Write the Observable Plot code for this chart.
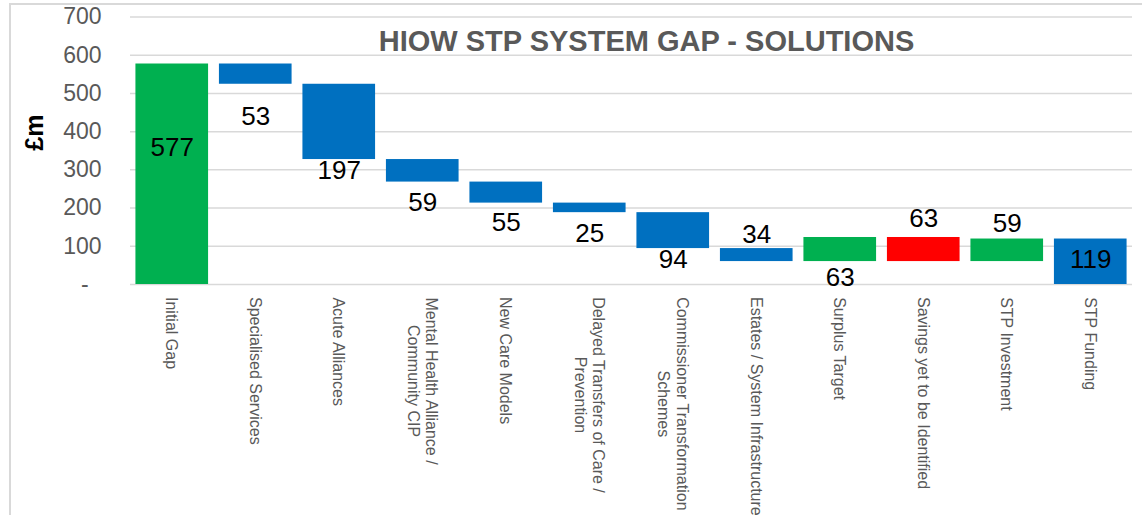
<!DOCTYPE html>
<html><head><meta charset="utf-8">
<script src="https://cdn.jsdelivr.net/npm/d3@7"></script>
<script src="https://cdn.jsdelivr.net/npm/@observablehq/plot@0.6"></script>
<style>
body{margin:0;background:#fff;}
#wrap{position:relative;width:1142px;height:515px;overflow:hidden;}
#frame{position:absolute;left:9px;top:3px;width:1200px;height:600px;border-left:2px solid #d9d9d9;border-top:2px solid #d9d9d9;pointer-events:none;}
#chart svg{display:block;}
</style></head><body>
<div id="wrap"><div id="chart"></div><div id="frame"></div></div>
<script>
// ---- data ----
const categories = [
  "Initial Gap",
  "Specialised Services",
  "Acute Alliances",
  "Mental Health Alliance /\nCommunity CIP",
  "New Care Models",
  "Delayed Transfers of Care /\nPrevention",
  "Commissioner Transformation\nSchemes",
  "Estates / System Infrastructure",
  "Surplus Target",
  "Savings yet to be Identified",
  "STP Investment",
  "STP Funding"
];
const values = [577, 53, 197, 59, 55, 25, 94, 34, 63, 63, 59, 119];
const steps  = ["total","down","down","down","down","down","down","down","up","down","up","total"];
const groups = ["gap","solution","solution","solution","solution","solution","solution","solution","surplus","unidentified","investment","funding"];
const yTicks = [0, 100, 200, 300, 400, 500, 600, 700];
const title = "HIOW STP SYSTEM GAP - SOLUTIONS";
const yLabel = "£m";

// ---- layout / style ----
const labelAt = [357, 438, 297, 215, 163, 134, 65, 130, 18, 172, 158, 65]; // value-label anchor heights (£m)
const groupColors = {gap:"#00B050", solution:"#0070C0", surplus:"#00B050", unidentified:"#FF0000", investment:"#00B050", funding:"#0070C0"};
const W = 1142, H = 515, mTop = 16.5, mBottom = 231, mLeft = 130, mRight = 10;
const ppu = (H - mTop - mBottom) / 700;
const FONT = "'Liberation Sans', Arial, sans-serif";
const CAT_FS = 16;

const ctx = document.createElement("canvas").getContext("2d");
ctx.font = CAT_FS + "px " + FONT;
const longest = s => d3.max(s.split("\n"), l => ctx.measureText(l).width);

let level = 0;
const rows = categories.map((c, i) => {
  let y1, y2;
  if (steps[i] === "total") { y1 = 0; y2 = values[i]; level = values[i]; }
  else if (steps[i] === "down") { y2 = level; y1 = level - values[i]; level = y1; }
  else { y1 = level; y2 = level + values[i]; level = y2; }
  return {category: c, value: values[i], group: groups[i], y1, y2,
          labelY: labelAt[i], catY: -(12.5 + longest(c) / 2) / ppu};
});

const gKeys = Object.keys(groupColors);
const chart = Plot.plot({
  width: W, height: H,
  marginTop: mTop, marginBottom: mBottom, marginLeft: mLeft, marginRight: mRight,
  style: {fontFamily: FONT, overflow: "visible", background: "transparent"},
  x: {domain: categories, axis: null, paddingInner: 0.13, paddingOuter: 0.065, round: false},
  y: {domain: [0, 700], nice: false},
  color: {domain: gKeys, range: gKeys.map(k => groupColors[k])},
  marks: [
    Plot.gridY(yTicks, {stroke: "#d9d9d9", strokeOpacity: 1, strokeWidth: 1.5}),
    Plot.axisY(yTicks, {tickSize: 0, tickPadding: 29, fontSize: 23, fill: "#595959", label: null,
      tickFormat: d => d === 0 ? "-\u00a0\u00a0" : String(d)}),
    Plot.barY(rows, {x: "category", y1: "y1", y2: "y2", fill: "group"}),
    Plot.text(rows, {x: "category", y: "labelY", text: d => String(d.value), fontSize: 26, fill: "black"}),
    Plot.text(rows, {x: "category", y: "catY", text: "category", rotate: 90, textAnchor: "middle",
      lineAnchor: "middle", lineHeight: 1.15, fontSize: CAT_FS, fill: "#595959"}),
    Plot.text([title], {text: d => d, frameAnchor: "top", dx: 15, dy: 25, lineAnchor: "middle",
      fontSize: 29, fontWeight: "bold", fill: "#595959"}),
    Plot.text([yLabel], {text: d => d, frameAnchor: "left", dx: -96, rotate: -90, lineAnchor: "middle",
      fontSize: 25, fontWeight: "bold", fill: "black"})
  ]
});
document.getElementById("chart").appendChild(chart);
</script>
</body></html>
